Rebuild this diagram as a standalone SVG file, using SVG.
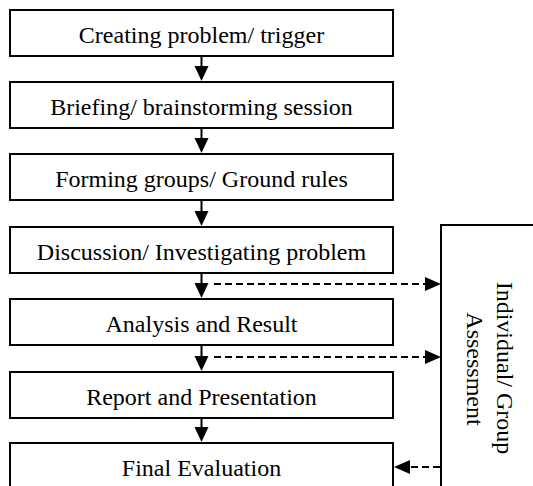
<svg xmlns="http://www.w3.org/2000/svg" width="533" height="486" viewBox="0 0 533 486">
  <defs>
    <style>
      .box { fill: #fff; stroke: #000; stroke-width: 2; }
      .lbl { font-family: "Liberation Serif", "Times New Roman", serif; font-size: 24px; fill: #000; text-anchor: middle; }
      .line { stroke: #000; stroke-width: 2; fill: none; }
      .dash { stroke: #000; stroke-width: 2; fill: none; stroke-dasharray: 7 4; }
      .head { fill: #000; stroke: none; }
    </style>
  </defs>
  <rect width="533" height="486" fill="#fff"/>

  <g id="connectors">
    <!-- solid arrows between steps -->
    <line class="line" x1="201.5" y1="57" x2="201.5" y2="67"/>
    <polygon class="head" points="194.5,66 208.5,66 201.5,81"/>
    <line class="line" x1="201.5" y1="129" x2="201.5" y2="139"/>
    <polygon class="head" points="194.5,138 208.5,138 201.5,153"/>
    <line class="line" x1="201.5" y1="201" x2="201.5" y2="212"/>
    <polygon class="head" points="194.5,211 208.5,211 201.5,226"/>
    <line class="line" x1="201.5" y1="273" x2="201.5" y2="284"/>
    <polygon class="head" points="194.5,283 208.5,283 201.5,298"/>
    <line class="line" x1="201.5" y1="346" x2="201.5" y2="357"/>
    <polygon class="head" points="194.5,356 208.5,356 201.5,371"/>
    <line class="line" x1="201.5" y1="418" x2="201.5" y2="428"/>
    <polygon class="head" points="194.5,427 208.5,427 201.5,442"/>
    <!-- dashed links to the assessment panel -->
    <line class="dash" x1="214" y1="284" x2="426" y2="284"/>
    <polygon class="head" points="425,277 425,291 441,284"/>
    <line class="dash" x1="214" y1="357" x2="426" y2="357"/>
    <polygon class="head" points="425,350 425,364 441,357"/>
    <line class="dash" x1="440" y1="467" x2="408" y2="467"/>
    <polygon class="head" points="410,460 410,474 394,467"/>
  </g>

  <g id="step1">
    <rect class="box" x="10" y="10" width="383" height="46"/>
    <text class="lbl" x="201.5" y="43">Creating problem/ trigger</text>
  </g>
  <g id="step2">
    <rect class="box" x="10" y="82" width="383" height="46"/>
    <text class="lbl" x="201.5" y="115">Briefing/ brainstorming session</text>
  </g>
  <g id="step3">
    <rect class="box" x="10" y="154" width="383" height="46"/>
    <text class="lbl" x="201.5" y="187">Forming groups/ Ground rules</text>
  </g>
  <g id="step4">
    <rect class="box" x="10" y="227" width="383" height="46"/>
    <text class="lbl" x="201.5" y="260">Discussion/ Investigating problem</text>
  </g>
  <g id="step5">
    <rect class="box" x="10" y="299" width="383" height="46"/>
    <text class="lbl" x="201.5" y="332">Analysis and Result</text>
  </g>
  <g id="step6">
    <rect class="box" x="10" y="372" width="383" height="46"/>
    <text class="lbl" x="201.5" y="405">Report and Presentation</text>
  </g>
  <g id="step7">
    <rect class="box" x="10" y="443" width="383" height="60"/>
    <text class="lbl" x="201.5" y="476">Final Evaluation</text>
  </g>

  <g id="assessment">
    <rect class="box" x="441" y="225" width="110" height="280"/>
    <text class="lbl" transform="translate(497,368) rotate(90)">Individual/ Group</text>
    <text class="lbl" transform="translate(467,369) rotate(90)">Assessment</text>
  </g>
</svg>
